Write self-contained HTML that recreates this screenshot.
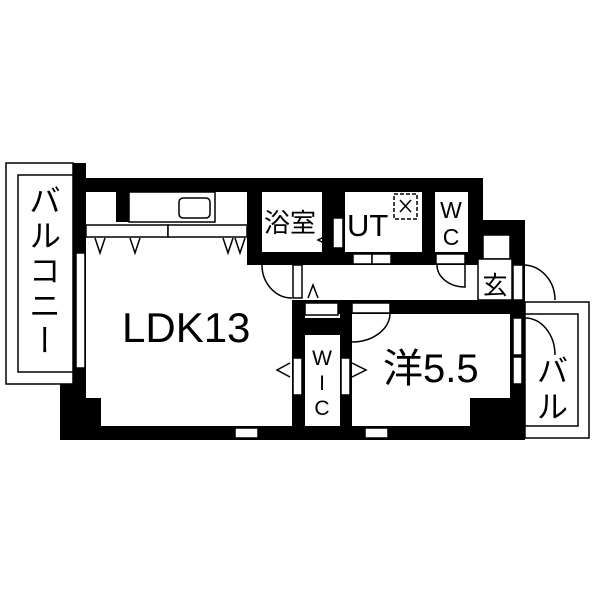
<!DOCTYPE html><html><head><meta charset="utf-8"><style>body{margin:0;background:#fff;position:relative}svg{display:block}text{font-family:"Liberation Sans","Noto Sans CJK JP",sans-serif;fill:#000}
.v{position:absolute;left:28px;top:184px;writing-mode:vertical-rl;font-family:"Noto Sans CJK JP",sans-serif;font-size:32px;line-height:34px;letter-spacing:3px;color:#000}</style></head><body>
<svg width="600" height="600" viewBox="0 0 600 600">
<g fill="#000">
<rect x="73" y="178" width="410" height="14"/>
<rect x="73" y="163" width="13" height="90"/>
<rect x="73" y="253" width="13" height="120"/>
<rect x="60" y="373" width="26" height="67"/>
<rect x="60" y="398" width="41" height="42"/>
<rect x="60" y="426" width="465" height="14"/>
<rect x="468" y="178" width="15" height="87"/>
<rect x="468" y="220" width="57" height="15"/>
<rect x="510" y="220" width="15" height="220"/>
<rect x="116" y="192" width="13" height="30"/>
<rect x="247" y="192" width="15" height="73"/>
<rect x="247" y="252" width="236" height="13"/>
<rect x="322" y="192" width="23" height="60"/>
<rect x="422" y="192" width="13" height="60"/>
<rect x="292" y="300" width="233" height="14"/>
<rect x="292" y="300" width="13" height="126"/>
<rect x="340" y="300" width="12" height="126"/>
<rect x="305" y="318" width="35" height="17"/>
<rect x="470" y="398" width="42" height="28"/>
</g>
<g fill="#fff" stroke="#000" stroke-width="1.5">
<rect x="6" y="163" width="67" height="221"/>
<rect x="18" y="175" width="55" height="197"/>
<rect x="76" y="253" width="9" height="115"/>
<rect x="129" y="192" width="86" height="30"/>
<rect x="179" y="198" width="31" height="20" rx="4"/>
<rect x="86" y="225" width="82" height="12"/>
<rect x="168" y="225" width="79" height="12"/>
<rect x="235" y="428" width="23" height="10"/>
<rect x="365" y="428" width="23" height="10"/>
<rect x="333" y="218" width="10" height="30"/>
<rect x="353" y="254" width="19" height="10"/>
<rect x="372" y="254" width="19" height="10"/>
<rect x="436" y="254" width="29" height="10"/>
<rect x="483" y="235" width="27" height="24"/>
<rect x="478" y="259" width="34" height="41"/>
<rect x="513" y="265" width="10" height="35"/>
<rect x="293" y="265" width="9" height="33"/>
<rect x="305" y="303" width="33" height="12"/>
<rect x="352" y="303" width="38" height="10"/>
<rect x="305" y="335" width="35" height="91" stroke="none"/>
<rect x="293" y="358" width="9" height="37"/>
<rect x="341" y="358" width="9" height="37"/>
<rect x="513" y="318" width="9" height="37"/>
<rect x="513" y="357" width="9" height="27"/>
<rect x="525" y="302" width="64" height="136"/>
<rect x="525" y="314" width="53" height="112"/>
<rect x="394" y="194" width="23" height="25" stroke-dasharray="4,2"/>
</g>
<g fill="none" stroke="#000" stroke-width="1.5">
<path d="M400 200 L411 212 M411 200 L400 212"/>
<path d="M262 265 A30 33 0 0 0 292 298"/>
<path d="M437 265 A28 22 0 0 0 465 287 L465 265"/>
<path d="M523 265 A32 35 0 0 1 555 300"/>
<path d="M390 313 A38 29 0 0 1 352 342"/>
<path d="M525 318 A30 37 0 0 1 555 355"/>
<path d="M95 238 L100 253 L105 238 M130 238 L135 253 L140 238 M223 238 L228 253 L233 238 M235 238 L240 253 L245 238"/>
<path d="M330 234 L318 240 L330 246"/>
<path d="M308 298 L313 285 L318 298"/>
<path d="M290 363 L277 370 L290 377"/>
<path d="M352 363 L366 370 L352 377"/>
</g>
<text x="122" y="342" font-size="42">LDK13</text>
<text x="383" y="382" font-size="40">洋5.5</text>
<text x="537" y="382" font-size="31">バ</text>
<text x="537" y="418" font-size="31">ル</text>
<text x="264" y="232" font-size="26">浴室</text>
<text x="347" y="236" font-size="31">UT</text>
<text x="451" y="218" font-size="23" text-anchor="middle">W</text>
<text x="451" y="245" font-size="23" text-anchor="middle">C</text>
<text x="495" y="294" font-size="25" text-anchor="middle">玄</text>
<text x="322" y="365" font-size="21" text-anchor="middle">W</text>
<text x="322" y="390" font-size="21" text-anchor="middle">I</text>
<text x="322" y="415" font-size="21" text-anchor="middle">C</text>
</svg>
<div class="v">バルコニー</div>
</body></html>
